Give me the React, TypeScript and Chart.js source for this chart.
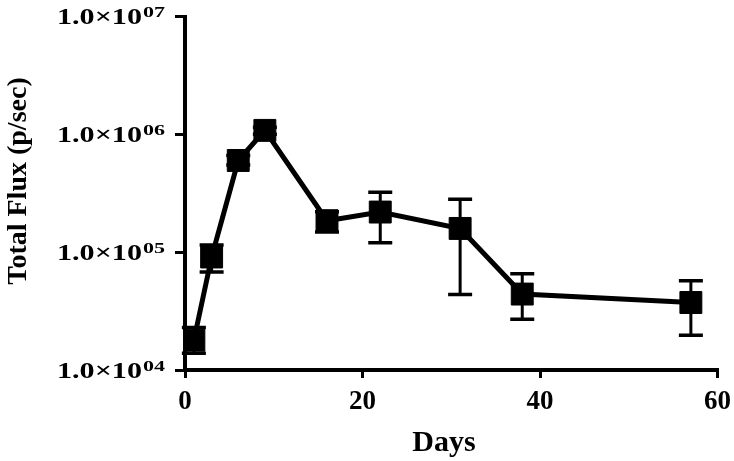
import React, { useEffect, useRef } from 'react';
import { Chart, registerables } from 'chart.js';

Chart.register(...registerables);

// ---- data ----
const days = [1, 3, 6, 9, 16, 22, 31, 38, 57];
const flux = [1.79e4, 9.1e4, 6.0e5, 1.08e6, 1.85e5, 2.19e5, 1.59e5, 4.41e4, 3.74e4];
const fluxUpper = [2.3e4, 1.15e5, 6.6e5, 1.15e6, 2.2e5, 3.22e5, 2.81e5, 6.57e4, 5.73e4];
const fluxLower = [1.39e4, 6.8e4, 5.5e5, 1.0e6, 1.48e5, 1.2e5, 4.37e4, 2.69e4, 1.97e4];
const yTickValues = [1e4, 1e5, 1e6, 1e7];
const yTickMantissa = '1.0×10';
const yTickExponents = ['04', '05', '06', '07'];
const xTickValues = [0, 20, 40, 60];
const xTitle = 'Days';
const yTitle = 'Total Flux (p/sec)';

const FONT = '"Liberation Serif", "Times New Roman", serif';

const errorBarPlugin = {
  id: 'errorBars',
  beforeDatasetsDraw(chart: any) {
    const { ctx, scales } = chart;
    const x = scales.x;
    const y = scales.y;
    ctx.save();
    ctx.strokeStyle = '#000';
    ctx.lineCap = 'butt';
    days.forEach((d, i) => {
      const px = x.getPixelForValue(d);
      const yt = y.getPixelForValue(fluxUpper[i]);
      const yb = y.getPixelForValue(fluxLower[i]);
      ctx.lineWidth = 3;
      ctx.beginPath();
      ctx.moveTo(px, yt);
      ctx.lineTo(px, yb);
      ctx.stroke();
      ctx.lineWidth = 3.5;
      ctx.beginPath();
      ctx.moveTo(px - 12, yt);
      ctx.lineTo(px + 12, yt);
      ctx.moveTo(px - 12, yb);
      ctx.lineTo(px + 12, yb);
      ctx.stroke();
    });
    ctx.restore();
  },
};

const labelPlugin = {
  id: 'customLabels',
  afterDraw(chart: any) {
    const { ctx, scales } = chart;
    const y = scales.y;
    ctx.save();
    ctx.fillStyle = '#000';
    yTickValues.forEach((v, i) => {
      const py = y.getPixelForValue(v);
      ctx.font = `bold 23px ${FONT}`;
      const w = ctx.measureText(yTickMantissa).width;
      ctx.save();
      ctx.translate(142, py + 7.5);
      ctx.scale(85 / w, 1);
      ctx.textAlign = 'right';
      ctx.textBaseline = 'alphabetic';
      ctx.fillText(yTickMantissa, 0, 0);
      ctx.restore();
      ctx.font = `bold 15px ${FONT}`;
      const w2 = ctx.measureText(yTickExponents[i]).width;
      ctx.save();
      ctx.translate(143, py + 0.5);
      ctx.scale(22 / w2, 1);
      ctx.textAlign = 'left';
      ctx.textBaseline = 'alphabetic';
      ctx.fillText(yTickExponents[i], 0, 0);
      ctx.restore();
    });
    // axis titles
    ctx.font = `bold 30px ${FONT}`;
    ctx.textAlign = 'center';
    ctx.textBaseline = 'alphabetic';
    ctx.fillText(xTitle, 444, 451);
    ctx.save();
    ctx.translate(26, 181);
    ctx.rotate(-Math.PI / 2);
    ctx.font = `bold 28px ${FONT}`;
    ctx.fillText(yTitle, 0, 0);
    ctx.restore();
    ctx.restore();
  },
};

export default function App() {
  const ref = useRef<HTMLCanvasElement | null>(null);
  useEffect(() => {
    document.body.style.margin = '0';
    const canvas = ref.current;
    if (!canvas) return;
    const chart = new Chart(canvas, {
      type: 'line',
      data: {
        datasets: [
          {
            data: days.map((d, i) => ({ x: d, y: flux[i] })),
            borderColor: '#000',
            backgroundColor: '#000',
            borderWidth: 5,
            pointStyle: 'rect',
            pointRadius: 15.5,
            pointBorderWidth: 1,
            pointBackgroundColor: '#000',
            pointBorderColor: '#000',
            tension: 0,
          },
        ],
      },
      options: {
        animation: false,
        responsive: false,
        events: [],
        layout: { padding: { left: 0, right: 15, top: 14, bottom: 0 } },
        plugins: { legend: { display: false }, tooltip: { enabled: false } },
        scales: {
          x: {
            type: 'linear',
            min: 0,
            max: 60,
            afterBuildTicks: (s: any) => {
              s.ticks = xTickValues.map((v) => ({ value: v }));
            },
            afterFit: (s: any) => {
              s.height = 91;
              s.paddingLeft = 0;
              s.paddingRight = 0;
            },
            ticks: {
              color: '#000',
              font: { family: FONT, size: 27, weight: 'bold' },
              padding: 8,
              maxRotation: 0,
            },
            grid: {
              drawOnChartArea: false,
              drawTicks: true,
              tickLength: 8,
              lineWidth: 3,
              color: '#000',
            },
            border: { display: true, width: 4, color: '#000' },
          },
          y: {
            type: 'logarithmic',
            min: 1e4,
            max: 1e7,
            afterBuildTicks: (s: any) => {
              s.ticks = yTickValues.map((v) => ({ value: v }));
            },
            afterFit: (s: any) => {
              s.width = 185;
            },
            ticks: { display: false },
            grid: {
              drawOnChartArea: false,
              drawTicks: true,
              tickLength: 10,
              lineWidth: 3,
              color: '#000',
            },
            border: { display: true, width: 4, color: '#000' },
          },
        },
      },
      plugins: [errorBarPlugin, labelPlugin],
    } as any);
    return () => chart.destroy();
  }, []);
  return (
    <div style={{ width: 734, height: 461 }}>
      <canvas ref={ref} width={734} height={461} style={{ display: 'block' }} />
    </div>
  );
}
